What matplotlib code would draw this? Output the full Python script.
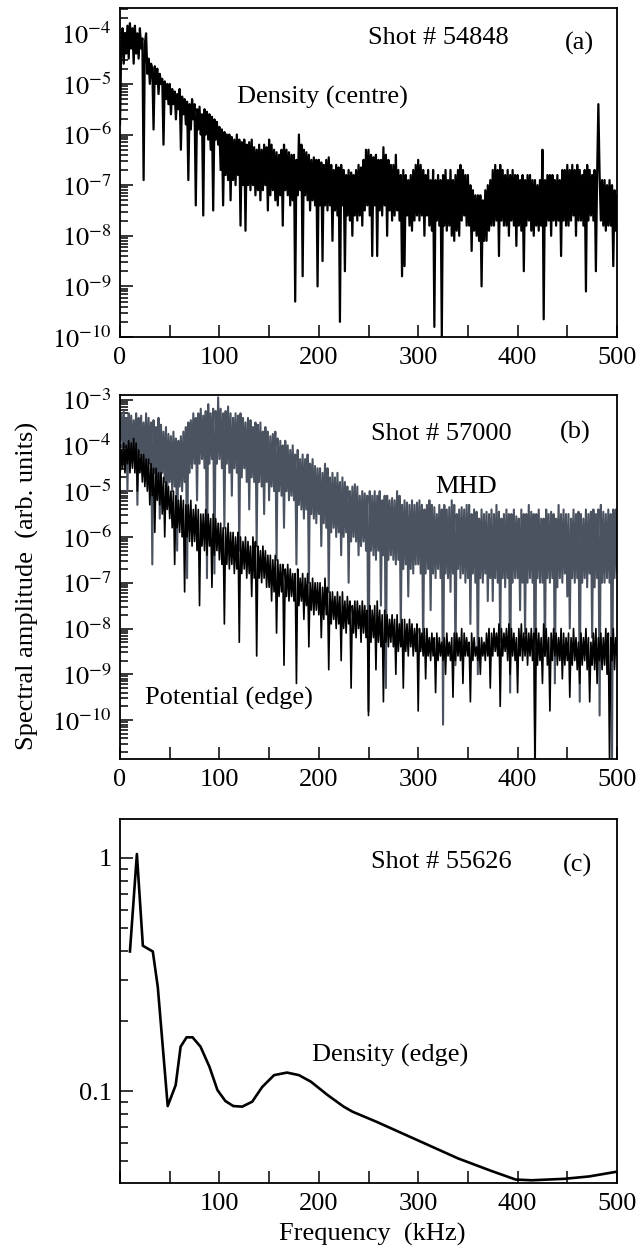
import numpy as np
import matplotlib
matplotlib.use("Agg")
import matplotlib.pyplot as plt
from matplotlib.ticker import LogLocator, NullFormatter, FuncFormatter, MultipleLocator

plt.rcParams['font.family'] = ['Liberation Serif', 'DejaVu Serif']
plt.rcParams['mathtext.fontset'] = 'stix'

# frequency grid of the sampled spectra (kHz), 1.25 kHz spacing
freq_ab = np.arange(401) * 1.25

# panel (a): log10 of density (centre) spectrum, shot 54848 (one row = 12.5 kHz)
dens_centre_log = [
    -5.8, -4.3, -3.9, -4.6, -4.0, -4.4, -3.85, -4.5, -3.8, -4.3,
    -3.9, -4.6, -3.85, -4.4, -4.0, -4.5, -3.9, -4.3, -4.1, -6.9,
    -4.2, -4.0, -4.8, -4.5, -5.0, -4.6, -4.7, -5.9, -4.65, -5.0,
    -4.7, -5.2, -4.8, -5.0, -4.9, -6.2, -4.95, -5.3, -5.0, -5.4,
    -5.0, -5.6, -5.1, -5.4, -5.15, -5.7, -5.2, -5.5, -5.1, -6.3,
    -5.25, -5.6, -5.3, -5.8, -5.35, -6.9, -5.4, -5.9, -5.3, -5.7,
    -5.4, -7.4, -5.5, -5.9, -5.45, -6.0, -5.6, -7.6, -5.5, -6.0,
    -5.55, -6.1, -5.6, -6.3, -5.65, -7.5, -5.7, -6.1, -5.75, -6.2,
    -5.85, -6.7, -5.9, -7.4, -5.95, -6.8, -6.0, -6.9, -6.0, -7.3,
    -6.05, -6.9, -6.1, -7.0, -6.0, -6.8, -6.1, -7.8, -6.15, -7.0,
    -6.1, -7.9, -6.2, -7.0, -6.15, -7.1, -6.1, -7.0, -6.25, -7.2,
    -6.3, -7.1, -6.2, -7.3, -6.3, -7.1, -6.2, -7.0, -6.25, -7.5,
    -6.1, -7.2, -6.2, -7.1, -6.3, -7.3, -6.35, -7.4, -6.4, -7.2,
    -6.3, -7.8, -6.2, -7.1, -6.3, -7.2, -6.35, -7.4, -6.4, -7.3,
    -6.4, -9.3, -6.5, -7.2, -6.0, -7.1, -6.2, -8.8, -6.3, -7.2,
    -6.35, -7.3, -6.4, -7.5, -6.5, -7.3, -6.45, -7.4, -6.5, -9.0,
    -6.5, -7.4, -6.55, -8.5, -6.6, -7.4, -6.5, -7.5, -6.45, -7.4,
    -6.6, -8.1, -6.7, -7.5, -6.6, -7.6, -6.65, -9.7, -6.6, -7.4,
    -6.7, -8.7, -6.8, -7.6, -6.7, -7.7, -6.75, -8.0, -6.8, -7.6,
    -6.7, -7.7, -6.6, -7.6, -6.65, -7.8, -6.5, -7.5, -6.3, -7.4,
    -6.3, -7.6, -6.4, -8.4, -6.45, -7.4, -6.4, -8.4, -6.5, -7.5,
    -6.5, -7.6, -6.25, -7.4, -6.4, -8.0, -6.5, -7.5, -6.6, -7.7,
    -6.6, -7.6, -6.4, -7.5, -6.7, -7.7, -6.8, -8.8, -6.7, -8.6,
    -6.8, -7.6, -6.9, -7.8, -6.8, -7.9, -6.7, -7.7, -6.6, -7.6,
    -6.5, -7.7, -6.6, -7.6, -6.7, -8.0, -6.8, -7.6, -6.7, -7.8,
    -6.9, -7.9, -6.7, -9.8, -6.9, -7.7, -6.8, -7.8, -6.9, -10.0,
    -6.8, -7.8, -6.7, -7.9, -6.9, -7.8, -6.7, -8.0, -6.9, -8.1,
    -6.8, -7.9, -6.7, -8.0, -6.6, -7.7, -6.7, -7.6, -6.8, -7.8,
    -6.8, -7.8, -7.0, -8.3, -7.1, -7.9, -7.2, -8.0, -7.2, -8.1,
    -7.2, -9.0, -7.3, -8.1, -7.1, -8.1, -7.0, -7.9, -6.9, -7.8,
    -6.7, -7.8, -6.6, -7.7, -6.7, -8.4, -6.6, -7.7, -6.7, -7.8,
    -6.8, -7.8, -6.7, -8.0, -6.8, -7.7, -6.7, -7.8, -6.8, -8.2,
    -6.8, -7.8, -6.9, -7.9, -6.8, -8.7, -6.9, -7.8, -6.8, -7.7,
    -6.8, -7.9, -6.9, -8.0, -6.9, -7.8, -7.0, -7.9, -6.9, -7.8,
    -6.3, -9.65, -6.9, -7.8, -6.8, -7.7, -6.8, -8.0, -6.8, -7.7,
    -6.9, -7.8, -6.8, -7.7, -6.9, -8.4, -6.7, -7.7, -6.7, -7.8,
    -6.6, -7.8, -6.7, -7.7, -6.6, -7.6, -6.7, -8.0, -6.6, -7.7,
    -6.7, -7.7, -6.8, -7.8, -6.7, -9.1, -6.6, -7.7, -6.7, -7.6,
    -6.8, -7.7, -6.7, -8.7, -6.8, -5.4, -6.8, -7.7, -6.9, -7.8,
    -6.9, -7.9, -7.0, -7.8, -6.9, -7.8, -7.0, -8.6, -7.1, -7.9,
    -7.2,
]

# panel (b): log10 of MHD and edge potential spectra, shot 57000
mhd_log = [
    -3.9, -3.3, -4.1, -3.25, -4.0, -3.4, -5.0, -3.3, -4.2, -3.35,
    -4.3, -3.45, -4.1, -3.3, -5.3, -3.4, -4.2, -3.35, -4.4, -3.5,
    -4.5, -3.3, -4.6, -3.4, -4.4, -3.5, -6.6, -3.45, -4.6, -3.6,
    -4.7, -3.4, -5.6, -3.55, -4.6, -3.7, -4.8, -3.6, -5.2, -3.75,
    -4.8, -3.8, -5.0, -3.7, -4.9, -3.85, -6.3, -3.9, -4.9, -3.8,
    -5.0, -3.7, -4.8, -3.6, -6.9, -3.5, -4.6, -3.45, -4.5, -3.3,
    -4.4, -3.4, -5.2, -3.3, -4.4, -3.2, -4.3, -3.35, -4.5, -3.25,
    -6.9, -3.1, -4.4, -3.3, -4.3, -3.2, -6.8, -3.25, -4.4, -2.95,
    -4.3, -3.2, -4.5, -3.3, -5.8, -3.25, -4.4, -3.15, -4.6, -3.3,
    -5.1, -3.4, -4.5, -3.3, -4.6, -3.35, -6.3, -3.3, -4.7, -3.4,
    -4.5, -3.5, -4.8, -3.4, -5.4, -3.45, -4.7, -3.6, -4.8, -3.5,
    -6.2, -3.55, -4.8, -3.5, -4.9, -3.7, -5.5, -3.6, -4.8, -3.7,
    -5.2, -3.8, -4.9, -3.75, -5.0, -3.7, -6.5, -3.85, -5.0, -3.9,
    -5.1, -4.0, -5.8, -3.9, -5.0, -4.0, -5.2, -4.1, -5.1, -4.0,
    -5.2, -4.2, -6.6, -4.1, -5.3, -4.3, -5.4, -4.2, -5.6, -4.3,
    -5.4, -4.2, -7.0, -4.4, -5.5, -4.3, -5.6, -4.45, -5.7, -4.5,
    -5.5, -4.5, -6.2, -4.6, -5.7, -4.4, -5.8, -4.5, -7.2, -4.7,
    -5.9, -4.6, -5.8, -4.7, -6.0, -4.6, -5.9, -4.8, -6.4, -4.7,
    -6.0, -4.8, -5.9, -4.9, -7.0, -5.0, -6.1, -4.9, -6.0, -4.85,
    -6.1, -4.9, -6.4, -5.1, -6.2, -5.0, -6.1, -5.05, -6.3, -5.1,
    -9.8, -5.0, -6.3, -5.1, -6.4, -5.0, -6.5, -5.1, -6.3, -5.0,
    -7.5, -5.2, -6.4, -5.1, -9.3, -5.1, -6.5, -5.2, -6.4, -5.15,
    -6.5, -5.2, -6.6, -5.0, -6.5, -5.1, -8.0, -5.3, -6.7, -5.2,
    -6.6, -5.25, -7.3, -5.3, -6.7, -5.2, -6.8, -5.3, -6.6, -5.25,
    -6.6, -5.2, -6.8, -5.3, -8.5, -5.4, -6.8, -5.3, -6.7, -5.2,
    -7.6, -5.3, -6.8, -5.35, -6.9, -5.5, -6.7, -5.3, -6.9, -5.4,
    -10.1, -5.3, -6.8, -5.4, -6.9, -5.35, -7.2, -5.2, -6.8, -5.3,
    -8.8, -5.5, -6.7, -5.4, -6.9, -5.35, -6.8, -5.4, -7.0, -5.3,
    -6.9, -5.3, -7.9, -5.5, -6.8, -5.4, -7.0, -5.45, -9.0, -5.6,
    -6.9, -5.4, -7.0, -5.5, -6.8, -5.45, -7.4, -5.5, -6.9, -5.4,
    -7.4, -5.5, -6.9, -5.3, -7.0, -5.45, -8.3, -5.6, -6.9, -5.5,
    -7.1, -5.4, -6.9, -5.5, -9.4, -5.5, -7.0, -5.4, -6.9, -5.55,
    -6.9, -5.6, -7.6, -5.4, -7.0, -5.5, -8.1, -5.5, -7.0, -5.3,
    -6.9, -5.45, -7.0, -5.5, -10.9, -5.5, -6.9, -5.4, -7.0, -5.6,
    -7.0, -5.6, -8.6, -5.4, -6.9, -5.5, -7.0, -5.45, -6.9, -5.5,
    -9.2, -5.6, -7.1, -5.3, -6.9, -5.5, -7.0, -5.4, -6.8, -5.5,
    -7.3, -5.5, -8.0, -5.6, -6.9, -5.4, -7.0, -5.5, -6.9, -5.45,
    -9.6, -5.5, -7.0, -5.6, -6.9, -5.4, -7.1, -5.5, -6.8, -5.45,
    -8.2, -5.4, -7.1, -5.5, -6.9, -5.4, -9.9, -5.3, -7.0, -5.45,
    -7.0, -5.5, -6.9, -5.4, -7.0, -5.5, -10.9, -5.4, -6.9, -5.4,
    -6.8,
]

potential_log = [
    -4.7, -4.1, -4.5, -3.95, -4.6, -4.0, -4.4, -3.9, -4.6, -3.95,
    -4.5, -3.85, -4.6, -3.95, -5.0, -4.1, -4.6, -4.2, -4.8, -4.2,
    -4.9, -4.3, -5.0, -4.3, -5.3, -4.4, -5.1, -4.5, -5.9, -4.5,
    -5.2, -4.6, -5.3, -4.6, -5.5, -4.7, -6.0, -4.8, -5.4, -4.9,
    -5.6, -5.0, -5.8, -5.0, -6.6, -5.1, -5.8, -5.2, -5.9, -5.1,
    -6.0, -5.2, -7.2, -5.3, -6.0, -5.3, -6.1, -5.2, -6.2, -5.4,
    -6.1, -5.3, -6.3, -5.4, -7.5, -5.5, -6.2, -5.5, -6.3, -5.4,
    -6.4, -5.5, -6.2, -5.6, -7.1, -5.5, -6.4, -5.6, -6.3, -5.7,
    -6.5, -5.7, -6.6, -5.8, -7.9, -5.8, -6.6, -5.7, -6.7, -5.9,
    -6.6, -5.9, -6.8, -6.0, -6.7, -5.9, -8.3, -6.0, -6.8, -6.1,
    -6.7, -6.0, -6.9, -6.1, -6.8, -6.2, -7.3, -6.0, -6.9, -6.1,
    -8.6, -6.2, -6.9, -6.3, -7.0, -6.2, -6.9, -6.3, -7.1, -6.4,
    -7.1, -6.4, -7.4, -6.5, -7.2, -6.4, -8.1, -6.5, -7.3, -6.6,
    -7.2, -6.6, -8.8, -6.7, -7.3, -6.6, -7.4, -6.7, -7.3, -6.8,
    -7.4, -6.8, -9.2, -6.7, -7.5, -6.9, -7.4, -6.8, -7.8, -6.9,
    -7.5, -6.8, -8.4, -7.0, -7.6, -6.9, -7.7, -7.0, -7.6, -7.0,
    -7.7, -7.0, -8.2, -7.1, -7.8, -6.9, -7.7, -7.1, -8.9, -7.2,
    -7.9, -7.2, -7.8, -7.3, -8.0, -7.2, -7.9, -7.3, -8.7, -7.2,
    -8.0, -7.4, -8.1, -7.3, -7.9, -7.4, -9.3, -7.5, -8.1, -7.4,
    -8.2, -7.4, -8.0, -7.5, -8.3, -7.4, -8.1, -7.5, -8.2, -7.6,
    -9.9, -7.5, -8.3, -7.6, -8.2, -7.5, -8.9, -7.4, -8.3, -7.6,
    -8.4, -7.7, -9.6, -7.6, -8.3, -7.7, -8.4, -7.8, -8.3, -7.7,
    -8.4, -7.8, -9.0, -7.7, -8.5, -7.9, -8.4, -7.8, -9.3, -7.8,
    -8.5, -7.9, -8.6, -7.8, -8.4, -7.9, -8.6, -8.0, -8.5, -7.9,
    -9.8, -8.0, -8.5, -8.1, -8.6, -8.0, -9.1, -8.0, -8.6, -8.2,
    -8.7, -8.1, -8.6, -8.2, -9.4, -8.1, -8.7, -8.2, -8.6, -8.3,
    -8.7, -8.2, -9.0, -8.1, -8.6, -8.3, -8.7, -8.2, -9.5, -8.1,
    -8.7, -8.1, -8.6, -8.2, -8.7, -8.0, -9.2, -8.1, -8.6, -8.2,
    -8.6, -8.3, -9.6, -8.1, -8.7, -8.2, -8.6, -8.4, -8.7, -8.2,
    -9.0, -8.2, -8.6, -8.3, -8.7, -8.1, -8.6, -8.0, -9.3, -8.1,
    -8.6, -8.0, -8.5, -8.1, -8.6, -7.9, -9.7, -8.0, -8.6, -8.1,
    -8.5, -8.0, -8.7, -7.9, -9.0, -8.0, -8.6, -8.1, -8.7, -8.2,
    -9.4, -8.0, -8.6, -7.9, -8.7, -8.1, -8.6, -8.0, -8.8, -8.1,
    -8.6, -8.0, -8.7, -8.1, -10.9, -8.0, -8.8, -8.1, -8.7, -8.2,
    -9.2, -7.9, -8.6, -8.0, -8.8, -8.2, -9.8, -8.1, -8.7, -8.0,
    -8.6, -8.1, -8.8, -8.2, -8.7, -8.0, -9.1, -8.1, -8.8, -8.2,
    -8.7, -8.1, -9.5, -8.2, -8.8, -8.0, -8.7, -8.2, -8.9, -8.3,
    -9.2, -8.1, -8.8, -8.2, -8.7, -8.0, -8.9, -8.2, -9.6, -8.3,
    -8.8, -8.1, -8.9, -8.0, -9.2, -8.2, -8.7, -8.1, -8.9, -8.2,
    -8.8, -8.0, -9.0, -8.1, -10.9, -8.2, -8.7, -8.0, -8.9, -8.2,
    -8.6,
]

# panel (c): density (edge) spectrum, shot 55626
freq_c = [10, 17, 23, 33, 38, 48, 56, 61, 67, 73, 81, 90, 98, 106, 114, 123,
          133, 143, 155, 168, 180, 192, 209, 225, 234, 258, 299, 340, 373,
          398, 414, 447, 472, 499]
dens_edge = [0.397, 1.04, 0.42, 0.397, 0.28, 0.0862, 0.106, 0.155, 0.170,
             0.170, 0.155, 0.127, 0.101, 0.0906, 0.0862, 0.0857, 0.090,
             0.104, 0.117, 0.120, 0.117, 0.1097, 0.096, 0.0857, 0.0815,
             0.0738, 0.0616, 0.0514, 0.0455, 0.0417, 0.0414, 0.042, 0.043,
             0.045]

W, H = 641, 1247
fig = plt.figure(figsize=(W / 100, H / 100), dpi=100)

def px_axes(left, top, right, bottom):
    return fig.add_axes([left / W, 1 - bottom / H, (right - left) / W, (bottom - top) / H])

def px_text(x, y, s, **kw):
    fig.text(x / W, 1 - y / H, s, ha='center', va='center', fontsize=19, **kw)

def style(ax):
    for side in ['left', 'bottom', 'top', 'right']:
        ax.spines[side].set_linewidth(1.3)
    ax.tick_params(which='both', direction='in', top=False, right=False,
                   labelsize=19, width=1.1)
    ax.tick_params(which='major', length=9)
    ax.tick_params(axis='y', which='minor', length=6)
    ax.tick_params(axis='y', which='major', pad=6)
    ax.tick_params(axis='x', which='major', pad=7)
    ax.set_xlim(0, 500)
    ax.xaxis.set_major_locator(MultipleLocator(50))
    ax.xaxis.set_major_formatter(FuncFormatter(lambda v, p: '%d' % v if v % 100 == 0 else ''))

pow_fmt = FuncFormatter(lambda v, p: r'$10^{%d}$' % round(np.log10(v)))

def log_axis(ax, lo, hi):
    ax.set_yscale('log')
    ax.set_ylim(10 ** lo, 10 ** hi)
    ax.yaxis.set_major_locator(LogLocator(base=10, numticks=20))
    ax.yaxis.set_minor_locator(LogLocator(base=10, subs=np.arange(2, 10), numticks=20))
    ax.yaxis.set_major_formatter(pow_fmt)
    ax.yaxis.set_minor_formatter(NullFormatter())

# (a)
ax1 = px_axes(120, 8, 617, 337)
ax1.plot(freq_ab, 10 ** np.array(dens_centre_log), color='black', lw=1.6)
log_axis(ax1, -10, -3.5)
style(ax1)
px_text(438, 38, 'Shot # 54848')
px_text(579, 43, '(a)')
px_text(322, 97, 'Density (centre)')

# (b)
ax2 = px_axes(120, 395, 617, 759)
ax2.plot(freq_ab, 10 ** np.array(mhd_log), color='#4b5360', lw=1.5)
ax2.plot(freq_ab, 10 ** np.array(potential_log), color='black', lw=1.2)
log_axis(ax2, -10.85, -2.9)
style(ax2)
px_text(441, 434, 'Shot # 57000')
px_text(575, 432, '(b)')
px_text(466, 487, 'MHD')
px_text(229, 698, 'Potential (edge)')

# (c)
ax3 = px_axes(120, 819, 617, 1183)
ax3.plot(freq_c, dens_edge, color='black', lw=1.9)
ax3.set_yscale('log')
ax3.set_ylim(0.0403, 1.47)
ax3.set_yticks([0.1, 1], ['0.1', '1'])
ax3.yaxis.set_minor_locator(LogLocator(base=10, subs=np.arange(2, 10), numticks=20))
ax3.yaxis.set_minor_formatter(NullFormatter())
style(ax3)
ax3.xaxis.set_major_formatter(FuncFormatter(lambda v, p: '%d' % v if v % 100 == 0 and v > 0 else ''))
px_text(441, 862, 'Shot # 55626')
px_text(577, 865, '(c)')
px_text(390, 1055, 'Density (edge)')
px_text(372, 1234, 'Frequency  (kHz)')

px_text(27, 586, 'Spectral amplitude  (arb. units)', rotation=90)

fig.savefig('out.png', dpi=100)
